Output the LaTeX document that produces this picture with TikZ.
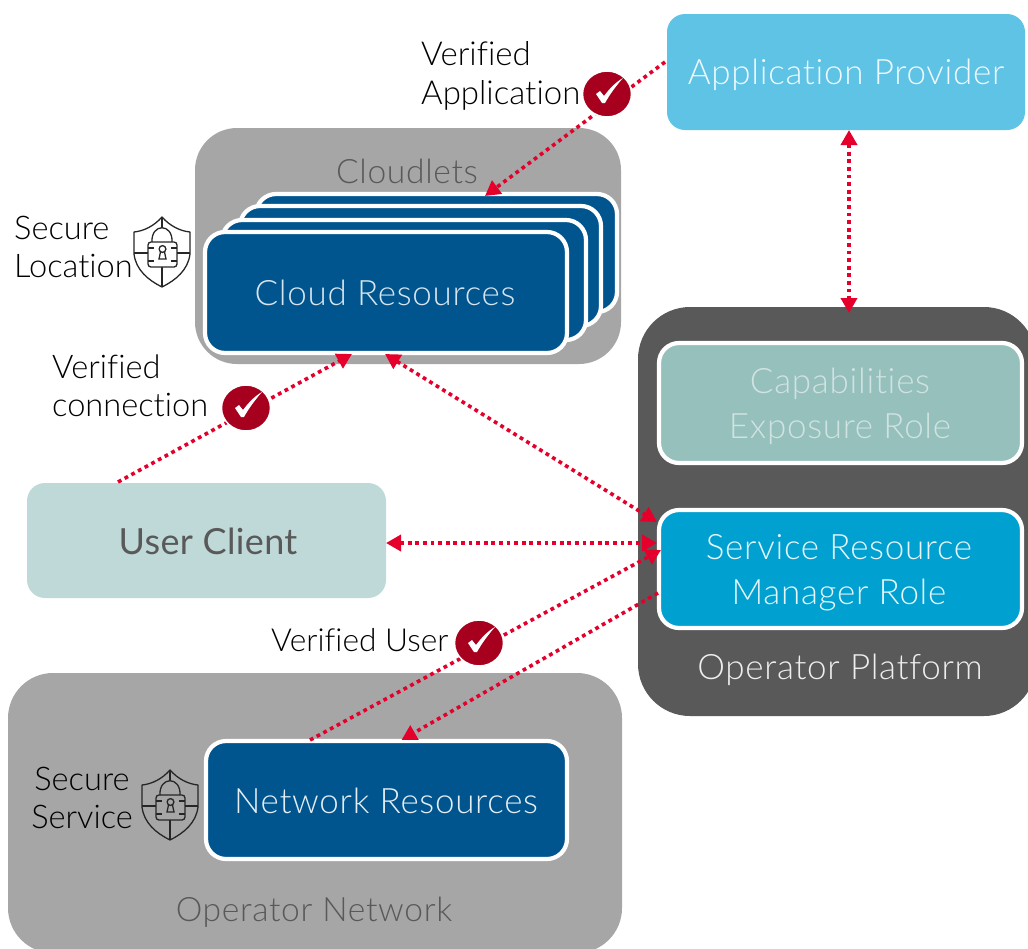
\documentclass[tikz,border=0pt]{standalone}
\usepackage{fontspec}
\setmainfont{Lato}[UprightFont=* Light,BoldFont=*,Ligatures=NoCommon]
\usetikzlibrary{calc,arrows.meta,shapes.geometric}
\definecolor{appblue}{HTML}{5EC3E5}
\definecolor{cloudgrey}{HTML}{A6A6A6}
\definecolor{navy}{HTML}{00558F}
\definecolor{platform}{HTML}{595959}
\definecolor{capteal}{HTML}{96C0BC}
\definecolor{srmblue}{HTML}{00A0D0}
\definecolor{clientteal}{HTML}{BFD9D8}
\definecolor{linkred}{HTML}{E4002B}
\definecolor{badgered}{HTML}{A6001E}
\tikzset{
  x=1pt,y=-1pt,
  span/.style n args={4}{at={({(#1+#3)/2},{(#2+#4)/2})},minimum width={(#3-#1)*1pt},minimum height={(#4-#2)*1pt}},
  panel/.style={rectangle,inner sep=0pt,outer sep=0pt,draw=none},
  whitebox/.style={panel,draw=white,line width=4.2pt,rounded corners=20pt},
  biglabel/.style={inner sep=0pt,align=center,font=\fontsize{35}{45}\selectfont\addfontfeatures{LetterSpace=2}},
  darklabel/.style={inner sep=0pt,align=center,text=platform,font=\fontsize{33.6}{45}\selectfont\addfontfeatures{LetterSpace=2}},
  note/.style={inner sep=0pt,font=\fontsize{32.6}{38.5}\selectfont,align=left},
  conn/.style={draw=linkred,line width=3.6pt,dash pattern=on 3.8pt off 3.8pt,
     {Triangle[length=15pt,width=16pt,fill=linkred]}-{Triangle[length=15pt,width=16pt,fill=linkred]}},
  connend/.style={draw=linkred,line width=3.6pt,dash pattern=on 3.8pt off 3.8pt,
     -{Triangle[length=15pt,width=16pt,fill=linkred]}},
  badge/.style={ellipse,fill=badgered,draw=white,line width=1.5pt,minimum width=49pt,minimum height=46pt,inner sep=0pt},
  iconline/.style={draw=black!85,line width=1.3pt,line join=round}
}
\newcommand{\shieldicon}[2]{%
\begin{scope}[shift={(#1,#2)}]
 \draw[iconline] (0,-35) .. controls (-8,-26) and (-18,-21) .. (-28,-20) -- (-28,2) .. controls (-26,18) and (-14,28) .. (0,35) .. controls (14,28) and (26,18) .. (28,2) -- (28,-20) .. controls (18,-21) and (8,-26) .. (0,-35) -- cycle;
 \draw[iconline,rounded corners=3pt] (-14,-10) rectangle (15,15);
 \draw[iconline] (-10,-10) .. controls (-11,-29) and (11,-29) .. (10,-10);
 \draw[iconline] (0,-35) -- (0,-24) (0,15) -- (0,35) (-28,1) -- (-14,1) (15,1) -- (28,1);
 \draw[iconline] (-14,-4) -- (-8,-4) (-14,9) -- (-8,9) (9,-4) -- (15,-4) (9,9) -- (15,9);
 \draw[iconline] (0.5,-3) circle (3.4pt);
 \draw[iconline,line join=miter] (-1.5,0) -- (-3,7) -- (4,7) -- (2.5,0);
\end{scope}}
\newcommand{\tickmark}[2]{%
 \fill[white,shift={(#1,#2)}] (-11,0) -- (-7,-3) -- (-3,2) .. controls (3,-6) and (9,-12) .. (16,-16) .. controls (9,-8) and (3,0) .. (-2,9) -- (-5,9) -- cycle;}
\begin{document}
\begin{tikzpicture}
\useasboundingbox (0,0) rectangle (1028,948);
\clip (0,0) rectangle (1028,948);
% panels
\node[panel,fill=cloudgrey,rounded corners=42pt,span={195}{128}{621}{364}] (cloudlets) {};
\node[panel,fill=platform,rounded corners=52pt,span={638}{307}{1036}{716}] (platform) {};
\node[panel,fill=cloudgrey,rounded corners=45pt,span={8}{673}{622}{953}] (opnet) {};
\node[panel,fill=appblue,rounded corners=18pt,span={667}{14}{1025}{130}] (app) {};
\node[panel,fill=clientteal,rounded corners=18pt,span={27}{483}{386}{598}] (client) {};
% stack
\node[whitebox,fill=navy,span={256}{194}{617}{312}] (stackd) {};
\node[whitebox,fill=navy,span={240}{206}{601}{326}] (stackc) {};
\node[whitebox,fill=navy,span={222}{220}{586}{340}] (stackb) {};
\node[whitebox,fill=navy,span={205}{232}{567}{353}] (cloud) {};
\node[whitebox,fill=capteal,span={659}{343}{1022}{463}] (cap) {};
\node[whitebox,fill=srmblue,span={659}{510}{1022}{628}] (srm) {};
\node[whitebox,fill=navy,span={206}{741}{567}{859}] (net) {};
% texts
\node[biglabel,text=white!90!appblue] (tapp) at (846,75) {Application Provider};
\node[darklabel] (tcl) at (407,171) {Cloudlets};
\node[biglabel,text=white!85!navy] (tcr) at (385,293) {Cloud Resources};
\node[biglabel,text=white!55!capteal] (tcap) at (840,406) {Capabilities\\Exposure Role};
\node[biglabel,text=white!90!srmblue] (tsrm) at (839,572.5) {Service Resource\\Manager Role};
\node[biglabel,text=white!90!platform] (top) at (840,670) {Operator Platform};
\node[inner sep=0pt,text=platform,font=\fontsize{36}{45}\selectfont\addfontfeatures{LetterSpace=1}\bfseries] (tuc) at (208,541) {User Client};
\node[biglabel,text=white!90!navy] (tnr) at (386,801) {Network Resources};
\node[darklabel] (ton) at (314,912) {Operator Network};
\node[note,anchor=west,font=\fontsize{33}{39}\selectfont] (nva) at (421,76) {Verified\\Application};
\node[note,anchor=west] (nsl) at (14,247) {Secure\\Location};
\node[note,anchor=west] (nvc) at (52,386) {Verified\\connection};
\node[note,anchor=west,font=\fontsize{31.7}{38.5}\selectfont] (nvu) at (271,640) {Verified User};
\node[note,align=center] (nss) at (82,798) {Secure\\Service};
% connectors
\draw[connend] ($(app.west)+(-2,-10)$) -- ($(stackd.north west)+(229,2)$);
\draw[conn] ($(app.south)+(3,0)$) -- ($(platform.north)+(12,6)$);
\draw[connend] ($(client.north west)+(91,-1)$) -- ($(cloud.south west)+(147,1)$);
\draw[conn] ($(cloud.south)+(-1,1)$) -- ($(srm.north west)+(-2,12)$);
\draw[conn] ($(client.east)+(0,2.5)$) -- ($(srm.west)+(-2,-26)$);
\draw[connend] ($(net.north west)+(104,-1)$) -- ($(srm.west)+(2,-19)$);
\draw[connend] ($(srm.west)+(-1,24)$) -- ($(net.north)+(15,-1)$);
% badges
\node[badge] (b1) at (607,94) {}; \tickmark{607}{94}
\node[badge] (b2) at (246,408) {}; \tickmark{246}{408}
\node[badge] (b3) at (479,643) {}; \tickmark{479}{643}
% icons
\shieldicon{162}{252}
\shieldicon{170}{805}
\end{tikzpicture}
\end{document}
